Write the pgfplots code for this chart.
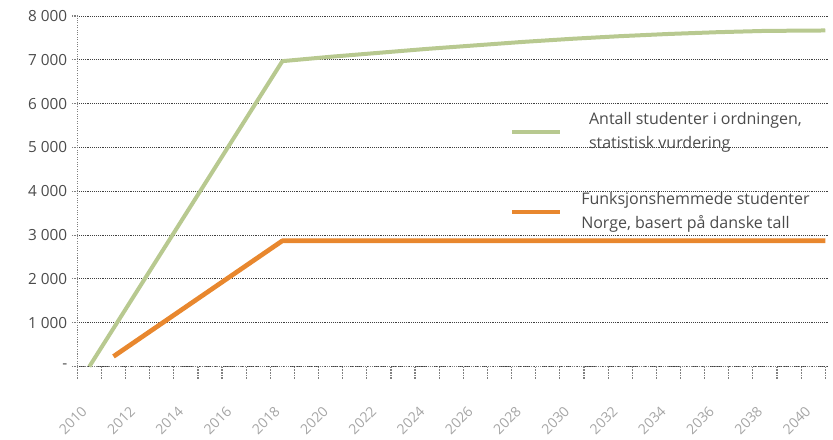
\documentclass[border=0pt]{standalone}
\usepackage{pgfplots}
\pgfplotsset{compat=1.18}
\usepackage{fontspec}
\setmainfont{Open Sans}
\definecolor{cgreen}{RGB}{184,201,144}
\definecolor{corange}{RGB}{232,135,46}
\definecolor{ctext}{RGB}{75,75,75}
\definecolor{cxlab}{RGB}{165,165,165}
\begin{document}
\begin{tikzpicture}
\begin{axis}[
  scale only axis,
  width=563pt, height=263pt,
  xmin=2009.5, xmax=2040.6,
  ymin=0, ymax=8000,
  axis x line*=bottom,
  axis y line*=left,
  axis line style={densely dotted, gray, line width=0.8pt},
  xtick={2010,2012,...,2040},
  xticklabels={2010,2012,2014,2016,2018,2020,2022,2024,2026,2028,2030,2032,2034,2036,2038,2040},
  xticklabel style={rotate=45, anchor=east, font=\fontsize{10.5}{12}\selectfont, text=cxlab, yshift=-17pt, xshift=-19pt},
  major x tick style={draw=none},
  minor xtick={2009.5,2010.5,...,2040.5},
  minor x tick style={densely dotted, gray, line width=0.9pt},
  minor tick length=9pt,
  tick align=outside,
  ytick={0,1000,...,8000},
  yticklabels={-,1 000,2 000,3 000,4 000,5 000,6 000,7 000,8 000},
  yticklabel style={font=\fontsize{11.5}{12}\selectfont, text=ctext},
  y tick style={densely dotted, gray, line width=0.8pt},
  major tick length=4pt,
  ymajorgrids,
  major grid style={densely dotted, black!75, line width=0.7pt},
  clip=false,
  legend style={at={(rel axis cs:0.5766,0.733)}, anchor=north west, draw=none, fill=none,
    inner sep=0pt, font=\fontsize{12}{17.5}\selectfont, text=ctext, row sep=28pt, column sep=12pt,
    cells={align=left}},
  legend image code/.code={\draw[#1, line width=3.3pt] (0cm,-0.5pt) -- (36pt,-0.5pt);},
]
\coordinate (o) at (rel axis cs:0,0);
\addplot[cgreen, line width=3pt, line join=round] coordinates {
 (2010,0) (2018,6970) (2019,7020) (2020,7070) (2022,7160) (2024,7250) (2026,7330)
 (2028,7410) (2030,7480) (2032,7540) (2034,7590) (2036,7630) (2038,7660) (2040.5,7670)};
\addlegendentry{Antall studenter i ordningen,\\statistisk vurdering}
\addplot[corange, line width=3.5pt, line join=round] coordinates {
 (2011,230) (2018,2870) (2020,2870) (2030,2870) (2040.5,2870)};
\addlegendentry{Funksjonshemmede studenter\\Norge, basert på danske tall}
\end{axis}
\pgfresetboundingbox
\path[use as bounding box] (o) ++(-58pt,-55pt) rectangle ++(625pt,330pt);
\end{tikzpicture}
\end{document}
